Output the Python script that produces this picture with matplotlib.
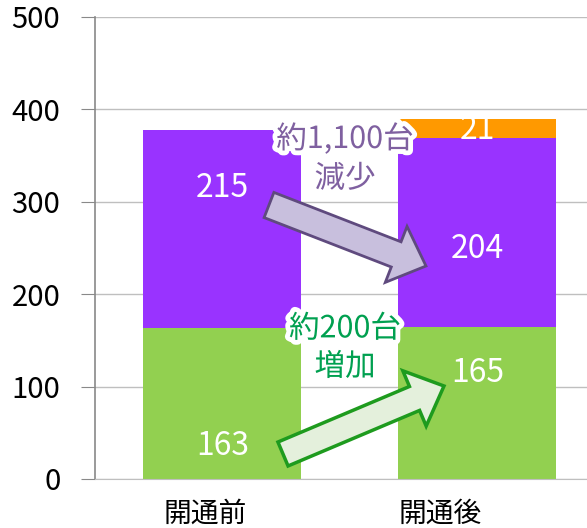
import numpy as np
import matplotlib.pyplot as plt
from matplotlib.patches import FancyArrow
from matplotlib.transforms import Affine2D, ScaledTranslation
import matplotlib.patheffects as pe

plt.rcParams['font.family'] = ['Noto Sans CJK JP', 'DejaVu Sans']

categories = ['開通前', '開通後']
green_vals = [163, 165]
purple_vals = [215, 204]
orange_vals = [0, 21]
yticks = [0, 100, 200, 300, 400, 500]

# where the data labels sit (data coords, moved by hand like the original)
label_pos = [(0.0, 315, '215'), (1.0, 249, '204'), (1.0, 378, '21'),
             (0.0, 36, '163'), (1.0, 115, '165')]

fig = plt.figure(figsize=(5.87, 5.28), dpi=100)
ax = fig.add_axes([95/587, 49/528, 492/587, 462/528])

x = np.arange(len(categories))
w = 0.62
ax.bar(x, green_vals, w, color='#92D050', zorder=2)
ax.bar(x, purple_vals, w, bottom=green_vals, color='#9933FF', zorder=2)
bot2 = np.array(green_vals) + np.array(purple_vals)
ax.bar(x, orange_vals, w, bottom=bot2, color='#FF9900', zorder=2)

for lx, ly, t in label_pos:
    ax.text(lx, ly, t, color='white', fontsize=23, ha='center', va='center', zorder=4)

ax.set_xlim(-0.5, 1.43)
ax.set_ylim(0, 500)
ax.set_yticks(yticks)
ax.set_xticks(x)
ax.set_xticklabels(categories, fontsize=20)
ax.tick_params(axis='y', labelsize=21, length=10, color='#898989', pad=15)
ax.tick_params(axis='x', length=0, pad=14)
ax.yaxis.grid(True, color='#BFBFBF', linewidth=1, zorder=0)
ax.set_axisbelow(True)
for s in ['top', 'right']:
    ax.spines[s].set_visible(False)
ax.spines['left'].set_color('#898989')
ax.spines['bottom'].set_color('#BFBFBF')
ax.spines['left'].set_linewidth(1.2)

# category labels sit a bit left of the bar centres in the original
for lab, dx in zip(ax.get_xticklabels(), [-17, -37]):
    lab.set_transform(lab.get_transform() + ScaledTranslation(dx/100, 0, fig.dpi_scale_trans))

# block arrows, drawn in pixel coords (top-left origin)
pix = Affine2D().scale(1/587, -1/528).translate(0, 1) + fig.transFigure
a1 = FancyArrow(269, 205, 157, 61, width=27, head_width=60, head_length=32,
                length_includes_head=True, transform=pix, facecolor='#C8BFDD',
                edgecolor='#5F4A7E', linewidth=2, zorder=5)
a2 = FancyArrow(283, 454, 161, -68, width=26, head_width=60, head_length=32,
                length_includes_head=True, transform=pix, facecolor='#E4F0DC',
                edgecolor='#1E9B1E', linewidth=2.5, zorder=5)
fig.add_artist(a1)
fig.add_artist(a2)

glow = [pe.withStroke(linewidth=7, foreground='white')]
fig.text(345/587, 1-159/528, '約1,100台\n減少', color='#7F60A0', fontsize=22,
         ha='center', va='center', linespacing=1.35, path_effects=glow, zorder=6)
fig.text(345/587, 1-348/528, '約200台\n増加', color='#00A050', fontsize=22,
         ha='center', va='center', linespacing=1.3, path_effects=glow, zorder=6)

fig.savefig('out.png', dpi=100)
